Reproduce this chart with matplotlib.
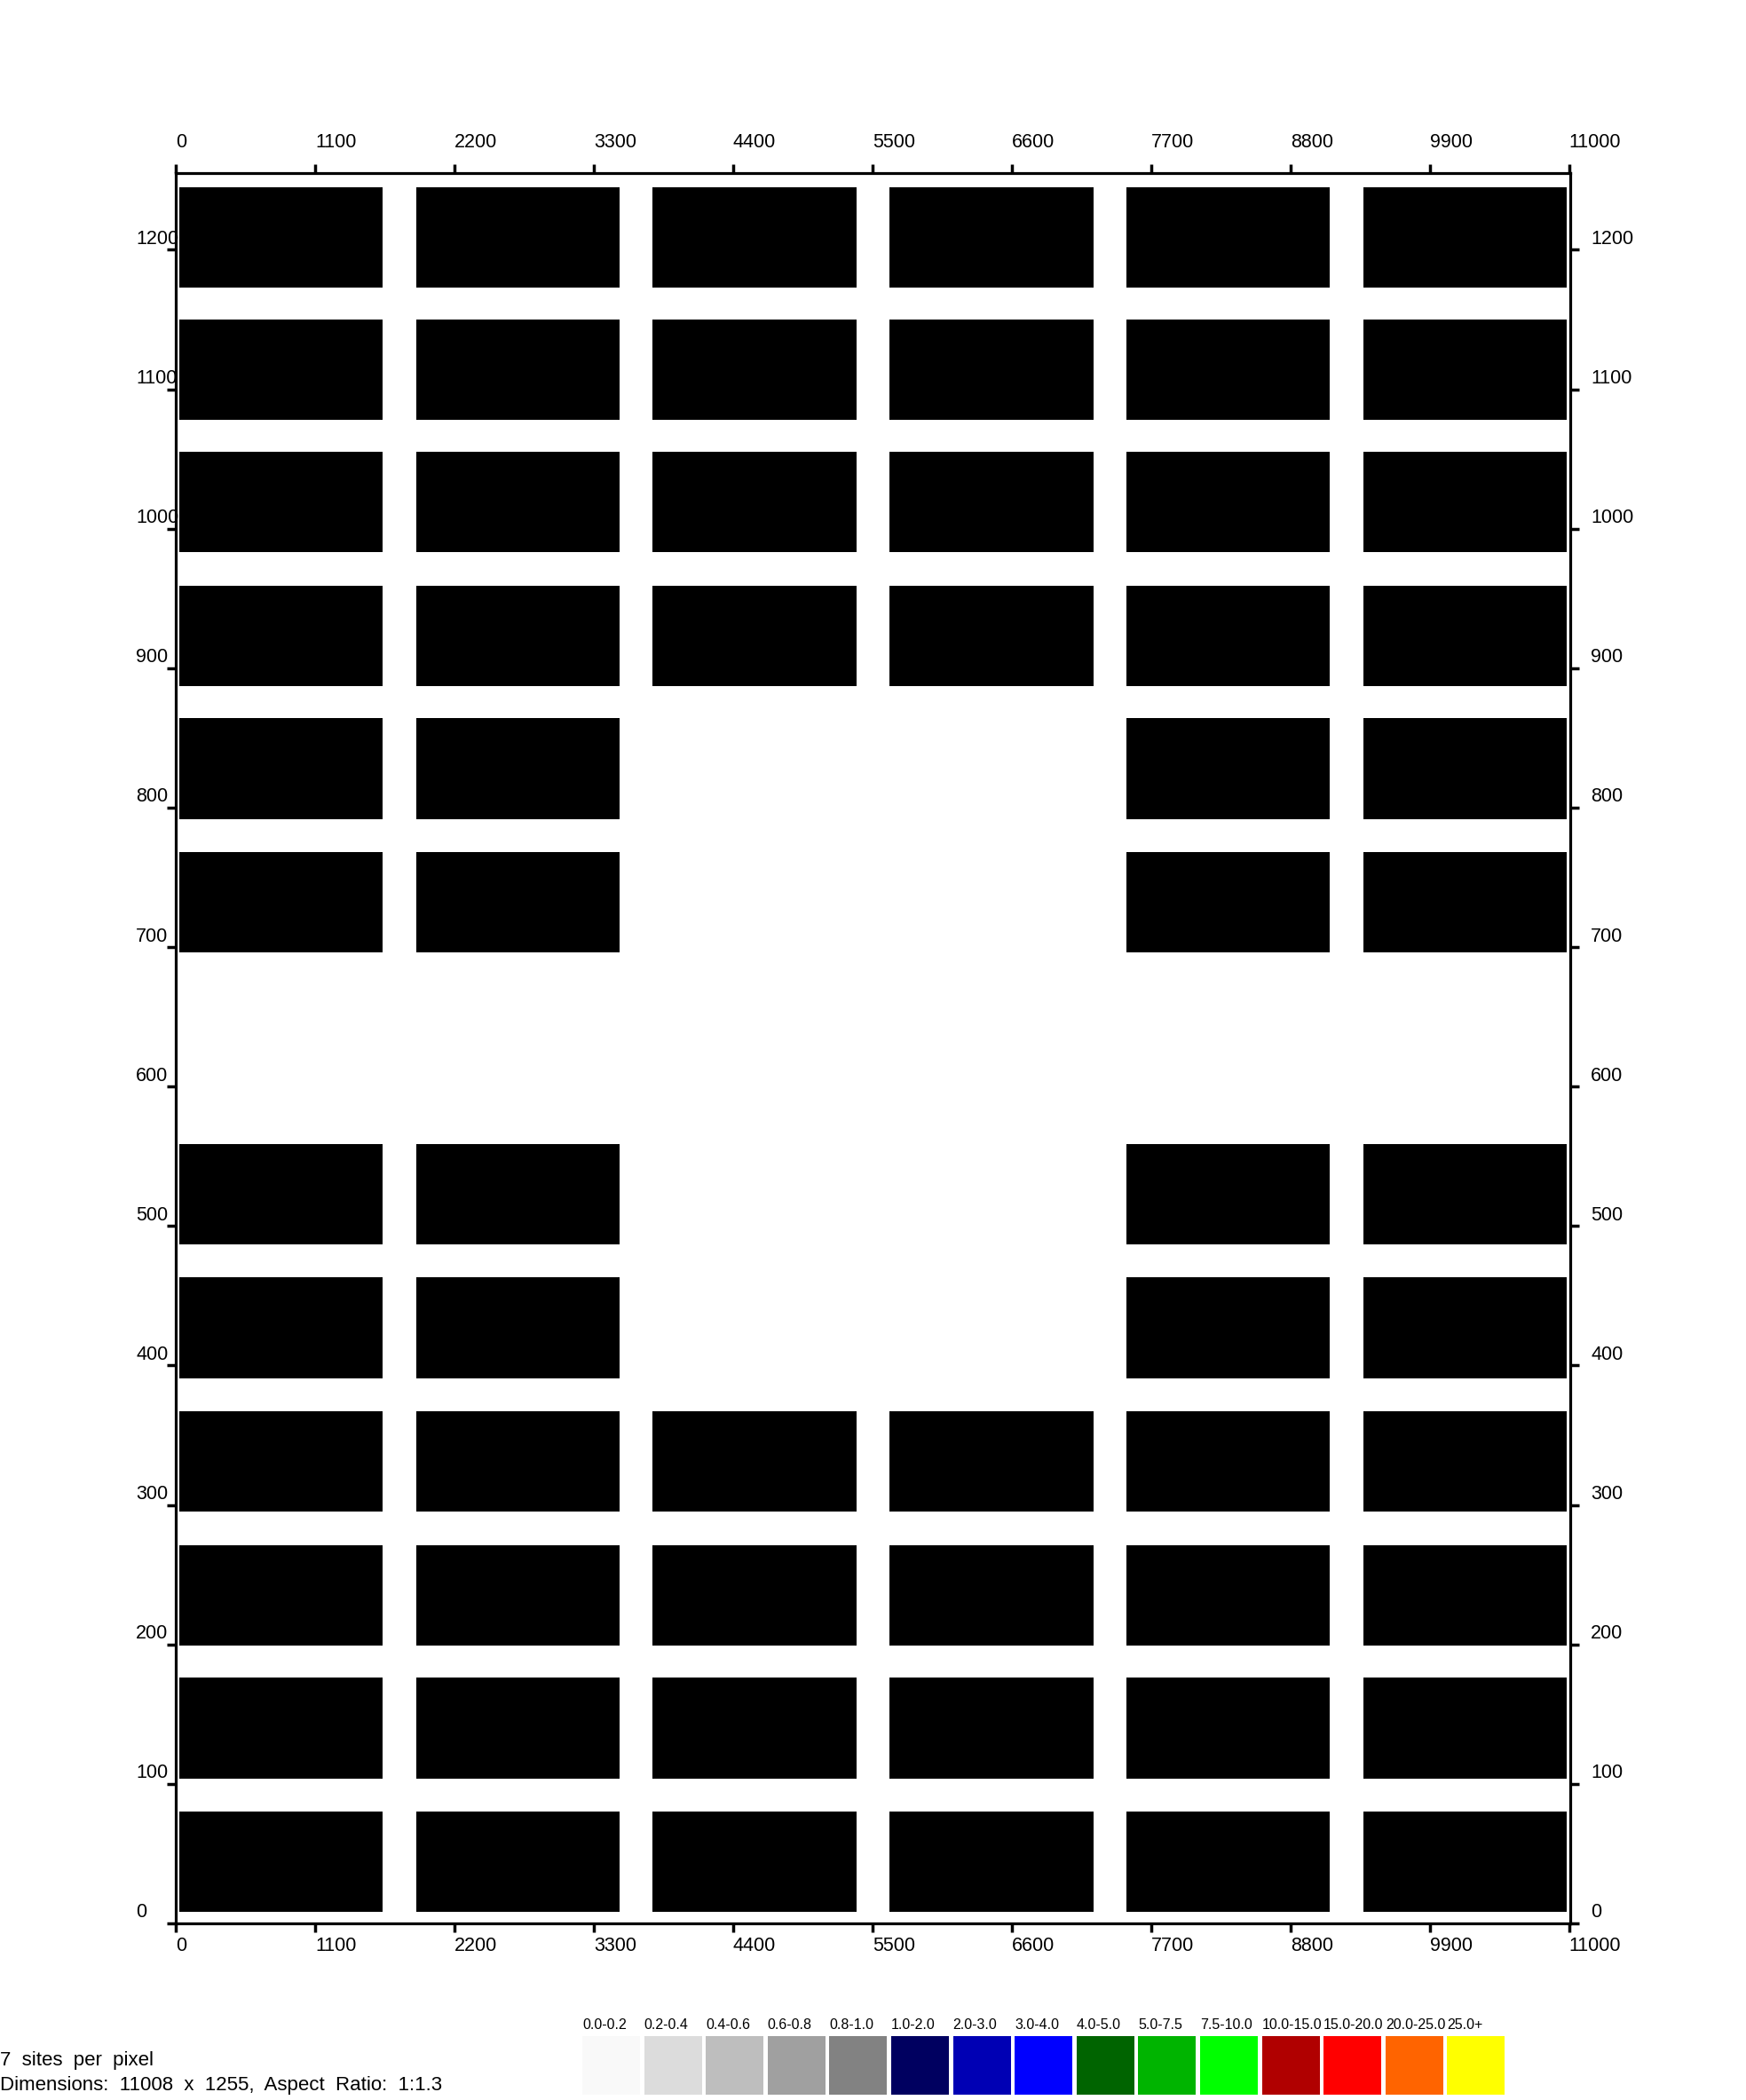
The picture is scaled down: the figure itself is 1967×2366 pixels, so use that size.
import matplotlib
matplotlib.use('Agg')

import matplotlib.pyplot as plt
import matplotlib.transforms as mtransforms

plt.rcParams['font.family'] = ['Liberation Sans', 'DejaVu Sans']

# ------------------------------------------------------------
# Datos del mapa de sitios
# ------------------------------------------------------------
col_left = [26, 1896, 3766, 5636, 7504, 9376]
col_width = 1606
row_bottom = [8, 104, 199, 295, 391, 487, 696, 792, 887, 983, 1078, 1173]
row_height = 72
# columnas ocupadas por fila (de abajo hacia arriba)
row_cols = [
    [0, 1, 2, 3, 4, 5],
    [0, 1, 2, 3, 4, 5],
    [0, 1, 2, 3, 4, 5],
    [0, 1, 2, 3, 4, 5],
    [0, 1, 4, 5],
    [0, 1, 4, 5],
    [0, 1, 4, 5],
    [0, 1, 4, 5],
    [0, 1, 2, 3, 4, 5],
    [0, 1, 2, 3, 4, 5],
    [0, 1, 2, 3, 4, 5],
    [0, 1, 2, 3, 4, 5],
]
x_max = 11008
y_max = 1255
x_ticks = [0, 1100, 2200, 3300, 4400, 5500, 6600, 7700, 8800, 9900, 11000]
y_ticks = [0, 100, 200, 300, 400, 500, 600, 700, 800, 900, 1000, 1100, 1200]

legend_labels = ["0.0-0.2", "0.2-0.4", "0.4-0.6", "0.6-0.8", "0.8-1.0",
                 "1.0-2.0", "2.0-3.0", "3.0-4.0", "4.0-5.0", "5.0-7.5",
                 "7.5-10.0", "10.0-15.0", "15.0-20.0", "20.0-25.0", "25.0+"]
legend_colors = ["#f9f9f9", "#dcdcdc", "#bebebe", "#a0a0a0", "#828282",
                 "#000060", "#0000b4", "#0000ff", "#006400", "#00b400",
                 "#00ff00", "#b00000", "#ff0000", "#ff6400", "#ffff00"]

info_lines = ["7  sites  per  pixel",
              "Dimensions:  11008  x  1255,  Aspect  Ratio:  1:1.3"]

W, H = 1967, 2366
fig = plt.figure(figsize=(W / 100, H / 100), dpi=100)

# ejes principales (en pixeles)
ax_l, ax_r, ax_t, ax_b = 198, 1769, 195, 2167
ax = fig.add_axes([ax_l / W, 1 - ax_b / H, (ax_r - ax_l) / W, (ax_b - ax_t) / H])

for cols, yb in zip(row_cols, row_bottom):
    xs = [col_left[c] for c in cols]
    ax.bar(xs, [row_height] * len(xs), width=col_width, bottom=yb,
           align='edge', color='black', linewidth=0)

ax.set_xlim(0, x_max)
ax.set_ylim(0, y_max)
for s in ax.spines.values():
    s.set_linewidth(2.3)
ax.set_xticks(x_ticks)
ax.set_yticks(y_ticks)
ax.set_xticklabels([])
ax.set_yticklabels([])
ax.tick_params(top=True, bottom=True, left=True, right=True,
               direction='out', length=7, width=2.5)

fs = 15.5
bx = mtransforms.blended_transform_factory(ax.transData, ax.transAxes)
by = mtransforms.blended_transform_factory(ax.transAxes, ax.transData)
for xv in x_ticks:
    t = mtransforms.offset_copy(bx, fig=fig, x=0, y=35, units='dots')
    ax.text(xv, 1, str(xv), transform=t, ha='left', va='center', fontsize=fs)
    t = mtransforms.offset_copy(bx, fig=fig, x=0, y=-26, units='dots')
    ax.text(xv, 0, str(xv), transform=t, ha='left', va='center', fontsize=fs)
for yv in y_ticks:
    t = mtransforms.offset_copy(by, fig=fig, x=-45, y=12, units='dots')
    ax.text(0, yv, str(yv), transform=t, ha='left', va='center', fontsize=fs)
    t = mtransforms.offset_copy(by, fig=fig, x=23, y=12, units='dots')
    ax.text(1, yv, str(yv), transform=t, ha='left', va='center', fontsize=fs)

# leyenda de colores
n = len(legend_labels)
lg_l, lg_r, lg_t, lg_b = 656, 1700, 2294, 2360
lax = fig.add_axes([lg_l / W, 1 - lg_b / H, (lg_r - lg_l) / W, (lg_b - lg_t) / H])
lax.bar(range(n), [1] * n, width=0.935, align='edge', color=legend_colors, linewidth=0)
lax.set_xlim(0, n)
lax.set_ylim(0, 1)
lax.axis('off')
for i, lab in enumerate(legend_labels):
    t = mtransforms.offset_copy(lax.transData, fig=fig, x=0, y=13, units='dots')
    lax.text(i, 1, lab, transform=t, ha='left', va='center', fontsize=11.5)

# texto informativo
fig.text(0, 1 - 2322 / H, info_lines[0], ha='left', va='center', fontsize=16)
fig.text(0, 1 - 2349 / H, info_lines[1], ha='left', va='center', fontsize=16)

fig.savefig('out.png', dpi=100)
plt.close(fig)
